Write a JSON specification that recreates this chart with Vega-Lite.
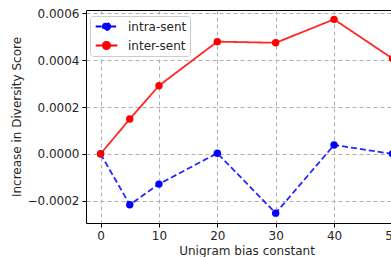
{
  "$schema": "https://vega.github.io/schema/vega-lite/v6.json",
  "width": 321,
  "height": 213,
  "autosize": {"type": "none"},
  "padding": {"left": 86, "top": 10, "right": 0, "bottom": 34},
  "background": "white",
  "config": {
    "font": "DejaVu Sans",
    "view": {"stroke": "#000000", "strokeWidth": 1},
    "axis": {
      "labelFont": "DejaVu Sans",
      "titleFont": "DejaVu Sans",
      "labelFontSize": 12,
      "titleFontSize": 12,
      "titleFontWeight": "normal",
      "labelColor": "#262626",
      "titleColor": "#262626",
      "domain": false,
      "tickColor": "#000000",
      "tickSize": 4,
      "labelPadding": 3,
      "grid": true,
      "gridColor": "#b0b0b0",
      "gridDash": [4, 3],
      "gridWidth": 1
    }
  },
  "data": {
    "values": [
      {"bias": 0, "series": "intra-sent", "score": 0.0},
      {"bias": 5, "series": "intra-sent", "score": -0.000217},
      {"bias": 10, "series": "intra-sent", "score": -0.000129},
      {"bias": 20, "series": "intra-sent", "score": 0.000003},
      {"bias": 30, "series": "intra-sent", "score": -0.000253},
      {"bias": 40, "series": "intra-sent", "score": 0.000038},
      {"bias": 50, "series": "intra-sent", "score": 0.0},
      {"bias": 0, "series": "inter-sent", "score": 0.0},
      {"bias": 5, "series": "inter-sent", "score": 0.000149},
      {"bias": 10, "series": "inter-sent", "score": 0.000291},
      {"bias": 20, "series": "inter-sent", "score": 0.000479},
      {"bias": 30, "series": "inter-sent", "score": 0.000474},
      {"bias": 40, "series": "inter-sent", "score": 0.000574},
      {"bias": 50, "series": "inter-sent", "score": 0.000407}
    ]
  },
  "encoding": {
    "x": {
      "field": "bias", "type": "quantitative",
      "scale": {"domain": [-2.5, 52.5], "nice": false, "zero": false},
      "axis": {"values": [0, 10, 20, 30, 40, 50], "title": "Unigram bias constant", "titlePadding": 4}
    },
    "y": {
      "field": "score", "type": "quantitative",
      "scale": {"domain": [-0.000295, 0.000614], "nice": false, "zero": false},
      "axis": {"values": [-0.0002, 0, 0.0002, 0.0004, 0.0006], "format": ".4f", "title": "Increase in Diversity Score", "titlePadding": 3}
    },
    "color": {
      "field": "series", "type": "nominal",
      "scale": {"domain": ["intra-sent", "inter-sent"], "range": ["#0000ff", "#ff0000"]},
      "legend": {
        "orient": "none",
        "legendX": 4,
        "legendY": 6,
        "title": null,
        "labelFontSize": 12,
        "labelFont": "DejaVu Sans",
        "labelColor": "#262626",
        "symbolType": "M-1.66,0H-0.56M0.56,0H1.66M0.56,0A0.56,0.56 0 1,1 -0.56,0A0.56,0.56 0 1,1 0.56,0",
        "symbolSize": 170,
        "symbolStrokeWidth": 1.8,
        "symbolOpacity": 1,
        "symbolOffset": 6,
        "rowPadding": 4,
        "labelOffset": 14,
        "padding": 3,
        "strokeColor": "#cccccc",
        "fillColor": "white",
        "cornerRadius": 3,
        "encode": {
          "symbols": {
            "update": {
              "fill": {"scale": "color", "field": "value"},
              "stroke": {"scale": "color", "field": "value"},
              "strokeDash": {"signal": "datum.value === 'intra-sent' ? [4, 2] : [1, 0]"}
            }
          }
        }
      }
    }
  },
  "layer": [
    {
      "mark": {"type": "line", "strokeWidth": 1.8, "opacity": 0.85},
      "encoding": {
        "strokeDash": {
          "field": "series", "type": "nominal",
          "scale": {"domain": ["intra-sent", "inter-sent"], "range": [[6, 3], [1, 0]]},
          "legend": null
        }
      }
    },
    {
      "mark": {"type": "point", "filled": true, "shape": "circle", "size": 55, "opacity": 1}
    }
  ]
}
